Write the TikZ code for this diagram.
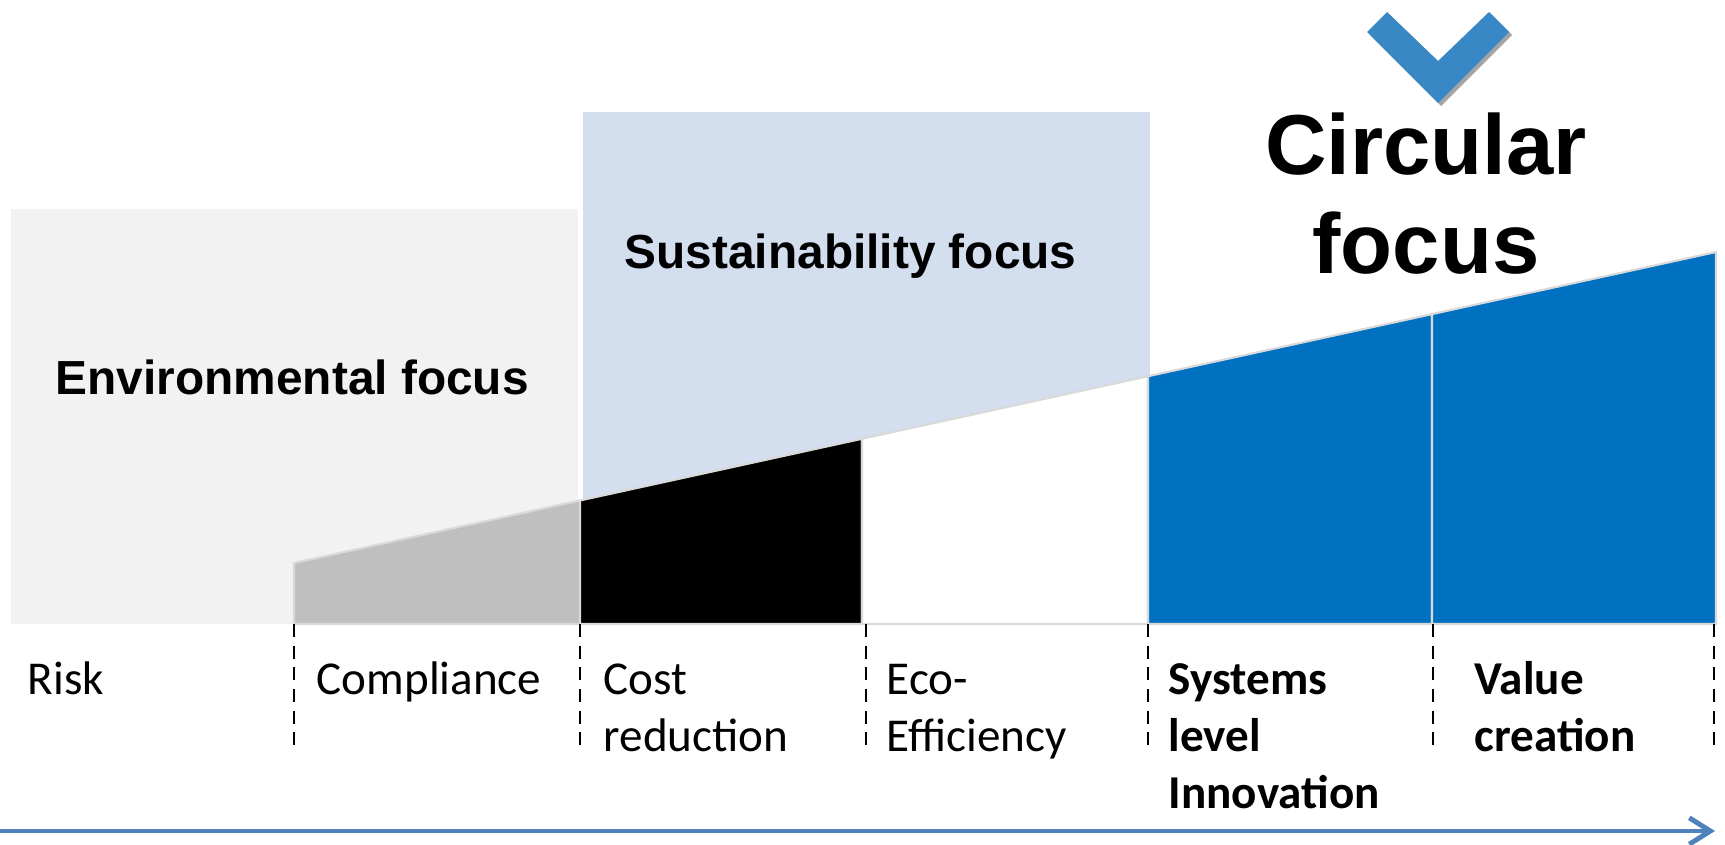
\documentclass[tikz,border=0pt]{standalone}
\usepackage{fontspec}
\setmainfont{Carlito}
\newfontfamily\headfont{Liberation Sans}
\usetikzlibrary{arrows.meta}

\definecolor{envgray}{RGB}{242,242,242}
\definecolor{sustblue}{RGB}{211,222,239}
\definecolor{wedgegray}{RGB}{191,191,191}
\definecolor{circblue}{RGB}{0,112,192}
\definecolor{wedgeline}{RGB}{217,217,217}
\definecolor{chevblue}{RGB}{56,136,197}
\definecolor{arrowblue}{RGB}{79,129,189}

\tikzset{
    stagelabel/.style={anchor=north west, inner sep=0pt, align=left, font=\fontsize{13.4}{16.2}\selectfont},
    focuslabel/.style={anchor=base west, inner sep=0pt, font=\headfont\bfseries\fontsize{13.6}{16}\selectfont},
    stagetick/.style={dash pattern=on 3.7pt off 2.45pt, line width=0.6pt},
    timeline/.style={arrowblue, line width=1.4pt, -{Straight Barb[length=6pt,width=7.5pt]}}
}

\begin{document}
\begin{tikzpicture}[x=0.01cm, y=-0.01cm]
            \newcommand{\wdg}[3]{
                \filldraw[fill=#3, draw=wedgeline, line width=0.6pt] (#1,624) -- (#1,{563-0.2187*(#1-294)}) -- (#2,{563-0.2187*(#2-294)}) -- (#2,624) -- cycle
            }
            \newcommand{\chevpath}{(1367,32) -- (1387,12) -- (1438,61) -- (1489,12) -- (1509,32) -- (1438,103) -- cycle}
            \useasboundingbox (0,0) rectangle (1725,844);

            \fill[envgray] (11,209) rectangle (578,624);
            \fill[sustblue] (583,112) rectangle (1150,624);

            \wdg{294}{580}{wedgegray};
            \wdg{580}{862}{black};
            \wdg{862}{1148}{white};
            \wdg{1148}{1432}{circblue};
            \wdg{1432}{1716}{circblue};

            \draw[stagetick] (294,624) -- (294,745);
            \draw[stagetick] (580,624) -- (580,745);
            \draw[stagetick] (866,624) -- (866,745);
            \draw[stagetick] (1148,624) -- (1148,745);
            \draw[stagetick] (1433,624) -- (1433,745);
            \draw[stagetick] (1714,624) -- (1714,745);

            \node[focuslabel] (env) at (55,394) {Environmental focus};
            \node[focuslabel] (sust) at (624,268) {Sustainability focus};
            \node[anchor=north, inner sep=0pt, align=center, font=\headfont\bfseries\fontsize{24.2}{28.2}\selectfont] (circ) at (1426,104) {\strut Circular\\focus};

            \fill[black!45, opacity=0.8, shift={(3,3)}] \chevpath;
            \fill[chevblue] \chevpath;

            \node[stagelabel] (risk) at (27,654) {\strut Risk};
            \node[stagelabel] (comp) at (316,654) {\strut Compliance};
            \node[stagelabel] (cost) at (603,654) {\strut Cost\\reduction};
            \node[stagelabel] (eco) at (886,654) {\strut Eco-\\Efficiency};
            \node[stagelabel, font=\bfseries\fontsize{13.4}{16.2}\selectfont] (sys) at (1168,654) {\strut Systems\\level\\Innovation};
            \node[stagelabel, font=\bfseries\fontsize{13.4}{16.2}\selectfont] (val) at (1474,654) {\strut Value\\creation};

            \coordinate (tstart) at (0,831);
            \coordinate (tend) at (1715,831);
            \draw[black!20, line width=1.2pt, shift={(0,4)}] (tstart) -- ([xshift=-6pt]tend);
            \draw[timeline] (tstart) -- (tend);
\end{tikzpicture}
\end{document}
